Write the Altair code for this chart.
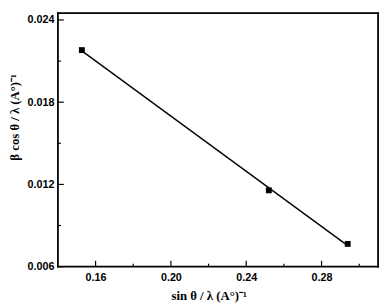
import altair as alt
import pandas as pd

# data
x_vals = [0.1527, 0.2520, 0.2939]
y_vals = [0.02180, 0.01157, 0.00766]

# tick values
x_major = [0.16, 0.20, 0.24, 0.28]
x_minor = [0.18, 0.22, 0.26, 0.30]
y_major = [0.006, 0.012, 0.018, 0.024]
y_minor = [0.009, 0.015, 0.021]

x_title = "sin θ / λ (A°)⁻¹"
y_title = "β cos θ / λ (A°)⁻¹"

W, H = 327, 259
xs = alt.Scale(domain=[0.14, 0.31], nice=False, zero=False)
ys = alt.Scale(domain=[0.006, 0.0245], nice=False, zero=False)

x_axis = alt.Axis(values=x_major, format=".2f", ticks=False, domain=False, grid=False,
                  title=x_title, labelPadding=5,
                  titleX=154, titleY=30, titleBaseline="middle")
y_axis = alt.Axis(values=y_major, format=".3f", ticks=False, domain=False, grid=False,
                  title=y_title, labelPadding=4,
                  titleX=-44, titleY=106, titleBaseline="middle", titleAngle=-90)

df = pd.DataFrame({"x": x_vals, "y": y_vals})

# frame drawn from the scale domain ends
x_ends = pd.DataFrame({"x": [0.14, 0.31]})
y_ends = pd.DataFrame({"y": [0.006, 0.0245]})

hframe = alt.Chart(y_ends).mark_rule(color="black", strokeWidth=1.8).encode(
    y=alt.Y("y:Q", scale=ys, axis=y_axis),
    x=alt.value(-0.9), x2=alt.value(W + 0.9),
)
vframe = alt.Chart(x_ends).mark_rule(color="black", strokeWidth=1.8).encode(
    x=alt.X("x:Q", scale=xs, axis=x_axis),
    y=alt.value(-0.9), y2=alt.value(H + 0.9),
)

points = alt.Chart(df).mark_square(size=36, color="black", opacity=1).encode(
    x=alt.X("x:Q", scale=xs, axis=x_axis),
    y=alt.Y("y:Q", scale=ys, axis=y_axis),
)

line = alt.Chart(df).transform_regression("x", "y").mark_line(
    color="black", strokeWidth=1.4
).encode(
    x=alt.X("x:Q", scale=xs, axis=x_axis),
    y=alt.Y("y:Q", scale=ys, axis=y_axis),
)

def xticks(vals, length):
    return alt.Chart(pd.DataFrame({"x": vals})).mark_rule(color="black", strokeWidth=1.2).encode(
        x=alt.X("x:Q", scale=xs, axis=x_axis),
        y=alt.value(H),
        y2=alt.value(H - length),
    )

def yticks(vals, length):
    return alt.Chart(pd.DataFrame({"y": vals})).mark_rule(color="black", strokeWidth=1.2).encode(
        y=alt.Y("y:Q", scale=ys, axis=y_axis),
        x=alt.value(0),
        x2=alt.value(length),
    )

chart = alt.layer(
    points, line,
    xticks(x_major, 6), xticks(x_minor, 3),
    yticks(y_major, 6), yticks(y_minor, 3),
    hframe, vframe,
).properties(
    width=W, height=H,
    autosize=alt.AutoSizeParams(type="none"),
    padding={"left": 51, "top": 2, "right": 2, "bottom": 38},
).configure_view(
    stroke=None
).configure_axis(
    labelFont="Liberation Sans", labelFontWeight="bold", labelFontSize=11, labelColor="black",
    titleFont="Liberation Serif", titleFontWeight="bold", titleFontSize=13, titleColor="black",
)

chart.save("out.html", embed_options={"renderer": "svg", "actions": False})
